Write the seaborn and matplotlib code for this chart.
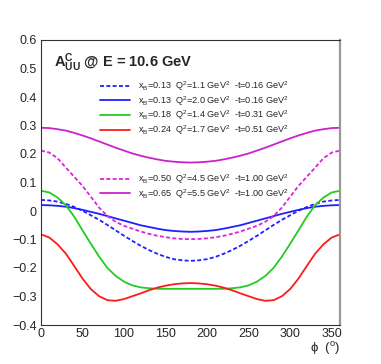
import numpy as np
import pandas as pd
import seaborn as sns
import matplotlib
matplotlib.use("Agg")
import matplotlib.pyplot as plt
from matplotlib.ticker import MultipleLocator

# phi grid (degrees) and curves
phi = list(range(0, 361, 10))

blue_dot = [0.039, 0.037, 0.033, 0.025, 0.014, 0.001, -0.015, -0.031, -0.049, -0.068,
            -0.087, -0.105, -0.122, -0.137, -0.150, -0.161, -0.169, -0.173, -0.175,
            -0.173, -0.169, -0.161, -0.150, -0.137, -0.122, -0.105, -0.087, -0.068,
            -0.049, -0.031, -0.015, 0.001, 0.014, 0.025, 0.033, 0.037, 0.039]
blue_sol = [0.021, 0.020, 0.018, 0.015, 0.010, 0.004, -0.003, -0.010, -0.018, -0.026,
            -0.034, -0.042, -0.050, -0.056, -0.062, -0.067, -0.070, -0.072, -0.073,
            -0.072, -0.070, -0.067, -0.062, -0.056, -0.050, -0.042, -0.034, -0.026,
            -0.018, -0.010, -0.003, 0.004, 0.010, 0.015, 0.018, 0.020, 0.021]
green = [0.071, 0.065, 0.047, 0.020, -0.020, -0.068, -0.115, -0.160, -0.200, -0.228,
         -0.248, -0.261, -0.268, -0.271, -0.273, -0.273, -0.273, -0.273, -0.273,
         -0.273, -0.273, -0.273, -0.273, -0.271, -0.268, -0.261, -0.248, -0.228,
         -0.200, -0.160, -0.115, -0.068, -0.020, 0.020, 0.047, 0.065, 0.071]
red = [-0.082, -0.093, -0.117, -0.150, -0.193, -0.237, -0.274, -0.299, -0.313, -0.315,
       -0.309, -0.299, -0.289, -0.278, -0.269, -0.262, -0.257, -0.254, -0.253,
       -0.254, -0.257, -0.262, -0.269, -0.278, -0.289, -0.299, -0.309, -0.315,
       -0.313, -0.299, -0.274, -0.237, -0.193, -0.150, -0.117, -0.093, -0.082]
mag_dot = [0.212, 0.205, 0.185, 0.152, 0.120, 0.088, 0.050, 0.012, -0.018, -0.038,
           -0.052, -0.062, -0.072, -0.080, -0.087, -0.092, -0.096, -0.098, -0.099,
           -0.098, -0.096, -0.092, -0.087, -0.080, -0.072, -0.062, -0.052, -0.038,
           -0.018, 0.012, 0.050, 0.088, 0.120, 0.152, 0.185, 0.205, 0.212]
mag_sol = [0.292, 0.291, 0.287, 0.282, 0.274, 0.265, 0.255, 0.244, 0.233, 0.222,
           0.212, 0.202, 0.194, 0.187, 0.181, 0.176, 0.173, 0.171, 0.170,
           0.171, 0.173, 0.176, 0.181, 0.187, 0.194, 0.202, 0.212, 0.222,
           0.233, 0.244, 0.255, 0.265, 0.274, 0.282, 0.287, 0.291, 0.292]

labels = [r"x$_{B}$=0.13  Q$^{2}$=1.1 GeV$^{2}$  -t=0.16 GeV$^{2}$",
          r"x$_{B}$=0.13  Q$^{2}$=2.0 GeV$^{2}$  -t=0.16 GeV$^{2}$",
          r"x$_{B}$=0.18  Q$^{2}$=1.4 GeV$^{2}$  -t=0.31 GeV$^{2}$",
          r"x$_{B}$=0.24  Q$^{2}$=1.7 GeV$^{2}$  -t=0.51 GeV$^{2}$",
          r"x$_{B}$=0.50  Q$^{2}$=4.5 GeV$^{2}$  -t=1.00 GeV$^{2}$",
          r"x$_{B}$=0.65  Q$^{2}$=5.5 GeV$^{2}$  -t=1.00 GeV$^{2}$"]

sns.set_style("white")
plt.rcParams['font.family'] = ['Liberation Sans', 'DejaVu Sans']
plt.rcParams['mathtext.fontset'] = 'custom'
plt.rcParams['mathtext.rm'] = 'Liberation Sans'
plt.rcParams['mathtext.it'] = 'Liberation Sans:italic'
plt.rcParams['mathtext.bf'] = 'Liberation Sans:bold'
plt.rcParams['mathtext.default'] = 'rm'

fig = plt.figure(figsize=(3.81, 3.64), dpi=100)
ax = fig.add_axes([41/381, 1 - 325/364, 299/381, 285/364])

dash = (0, (2.2, 1.3))
series = [(blue_dot, '#2020ff', dash), (blue_sol, '#2020ff', '-'),
          (green, '#22cc22', '-'), (red, '#ff1a1a', '-'),
          (mag_dot, '#dd22dd', dash), (mag_sol, '#cc22cc', '-')]
handles = []
for (vals, col, ls), lab in zip(series, labels):
    sns.lineplot(x=phi, y=vals, color=col, linestyle=ls, linewidth=1.3, ax=ax, legend=False)
    handles.append(ax.get_lines()[-1])

ax.set_xlim(0, 360)
ax.set_ylim(-0.4, 0.6)
ax.xaxis.set_major_locator(MultipleLocator(50))
ax.xaxis.set_minor_locator(MultipleLocator(10))
ax.yaxis.set_major_locator(MultipleLocator(0.1))
ax.yaxis.set_minor_locator(MultipleLocator(0.02))
ax.set_yticklabels([f"{v:.1f}".replace("-", "\u2212") if abs(v) > 1e-9 else "0"
                    for v in ax.get_yticks()])
ax.tick_params(which='both', direction='in', top=False, right=False, labelsize=9,
               color='#444444')
ax.tick_params(which='major', length=8, width=0.8)
ax.tick_params(which='minor', length=4, width=0.8)
ax.tick_params(axis='x', pad=2)
ax.tick_params(axis='y', pad=3)
for s in ['left', 'bottom', 'top']:
    ax.spines[s].set_color('#333333')
    ax.spines[s].set_linewidth(0.8)
ax.spines['right'].set_color('#999999')
ax.spines['right'].set_linewidth(1.6)

ax.text(0.045, 0.92, r"$\mathbf{A}_{\mathbf{UU}}^{\mathbf{C}}$ @ E = 10.6 GeV",
        transform=ax.transAxes, fontsize=10.5, fontweight='bold', va='center')
fig.text(340/381, 1 - 348/364, "\u03d5  ($^{o}$)", ha='right', va='center', fontsize=9.5)

kw = dict(loc='upper left', frameon=False, fontsize=6.6, handlelength=3.3,
          handletextpad=0.85, labelspacing=0.1, borderpad=0, borderaxespad=0)
leg1 = ax.legend(handles[:4], labels[:4], bbox_to_anchor=(0.197, 0.8625), **kw)
ax.add_artist(leg1)
ax.legend(handles[4:], labels[4:], bbox_to_anchor=(0.197, 0.536), **kw)

fig.savefig("out.png", dpi=100)
